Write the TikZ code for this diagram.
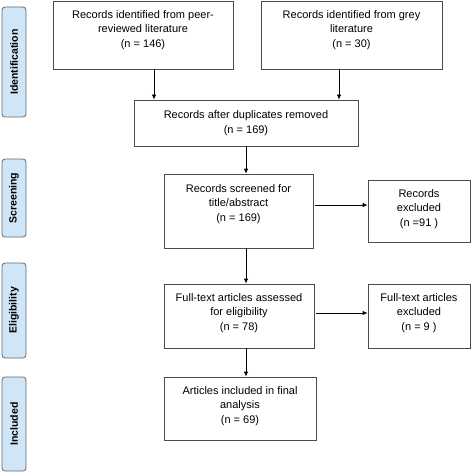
\documentclass[tikz,border=0pt]{standalone}
\usepackage{fontspec}
\setmainfont{Liberation Sans}
\usetikzlibrary{arrows.meta}
\definecolor{phasefill}{HTML}{CFE6F8}
\begin{document}
\begin{tikzpicture}[x=1pt,y=-1pt,
    box/.style={draw=black!70,line width=0.8pt,align=center,inner sep=0pt,
      font=\fontsize{11}{14.5}\selectfont},
    phase/.style={draw=black!60,fill=phasefill,line width=0.8pt,rounded corners=3pt,
      rotate=90,inner sep=0pt,minimum height=24pt,
      font=\fontsize{10.5}{12}\selectfont\bfseries}]
  \useasboundingbox (0,0) rectangle (472,473);
  \node[phase,minimum width=110pt] (ident) at (14,62) {Identification};
  \node[phase,minimum width=78pt] (scr) at (14,198) {Screening};
  \node[phase,minimum width=95pt] (eli) at (14,310.5) {Eligibility};
  \node[phase,minimum width=94pt] (inc) at (14,424) {Included};
  \node[box,minimum width=180pt,minimum height=68pt,text depth=12pt] (peer) at (143,35)
    {Records identified from peer-\\reviewed literature\\(n = 146)};
  \node[box,minimum width=181pt,minimum height=68pt,text depth=12pt] (grey) at (351.5,35)
    {Records identified from grey\\literature\\(n = 30)};
  \node[box,minimum width=224pt,minimum height=46pt] (dup) at (246,123)
    {Records after duplicates removed\\(n = 169)};
  \node[box,minimum width=149pt,minimum height=74pt,text depth=16pt] (screen) at (238.5,211)
    {Records screened for\\title/abstract\\(n = 169)};
  \node[box,minimum width=102pt,minimum height=62pt,text depth=6pt] (excl1) at (419,211)
    {Records\\excluded\\(n =91 )};
  \node[box,minimum width=150pt,minimum height=64pt,text depth=8pt] (elig) at (239,316)
    {Full-text articles assessed\\for eligibility\\(n = 78)};
  \node[box,minimum width=102pt,minimum height=64pt,text depth=8pt] (excl2) at (419,316)
    {Full-text articles\\excluded\\(n = 9 )};
  \node[box,minimum width=152pt,minimum height=63pt,text depth=7pt] (incl) at (240,408.5)
    {Articles included in final\\analysis\\(n = 69)};
  \begin{scope}[-{Latex[length=5pt,width=4.5pt]},line width=0.8pt]
    \draw ([xshift=11pt]peer.south) -- ([xshift=11pt]peer.south |- dup.north);
    \draw ([xshift=-12.5pt]grey.south) -- ([xshift=-12.5pt]grey.south |- dup.north);
    \draw (dup.south) -- (dup.south |- screen.north);
    \draw (dup.south |- screen.south) -- (dup.south |- elig.north);
    \draw (dup.south |- elig.south) -- (dup.south |- incl.north);
    \draw ([shift={(2pt,6pt)}]screen.east) -- ([yshift=6pt]screen.east -| excl1.west);
    \draw ([shift={(2pt,3pt)}]elig.east) -- ([yshift=3pt]elig.east -| excl2.west);
  \end{scope}
\end{tikzpicture}
\end{document}
